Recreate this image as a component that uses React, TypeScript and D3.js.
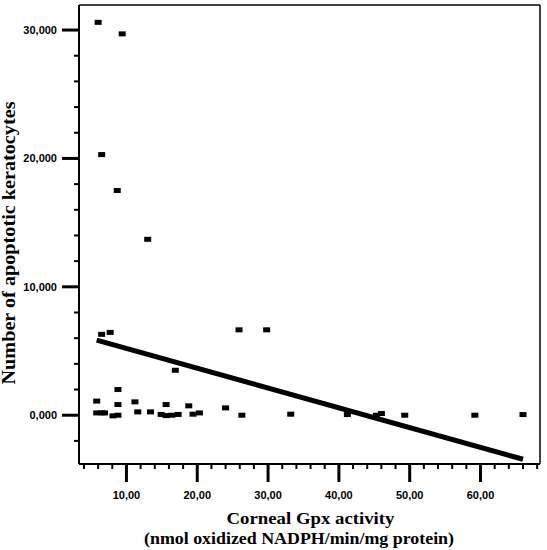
import React from "react";
import * as d3 from "d3";

const gpx = [6.0, 9.4, 6.5, 8.7, 13.0, 6.5, 7.7, 16.9, 8.8, 25.9, 29.8, 24.0, 26.3, 33.2, 41.2, 45.3, 46.0, 49.3, 59.2, 66.0, 5.8, 8.8, 11.2, 15.6, 18.8, 5.8, 6.5, 6.9, 8.1, 8.8, 11.6, 13.4, 14.9, 15.6, 16.4, 17.3, 19.4, 20.3];
const apoptotic = [30600, 29700, 20300, 17500, 13700, 6300, 6450, 3500, 2000, 6650, 6650, 570, 0, 80, 50, 0, 130, 0, 0, 50, 1100, 830, 1040, 830, 730, 180, 180, 180, -50, 0, 260, 260, 60, -30, 0, 60, 80, 180];

const fitX = [5.8, 66.0];
const fitY = [5850, -3430];

const xMajorTicks = [10, 20, 30, 40, 50, 60];
const xTickLabels = ["10,00", "20,00", "30,00", "40,00", "50,00", "60,00"];
const xMinorTicks = d3.range(4, 69, 2);
const yMajorTicks = [0, 10000, 20000, 30000];
const yTickLabels = ["0,000", "10,000", "20,000", "30,000"];
const yMinorTicks = d3.range(-2000, 30001, 2000);

const xTitle1 = "Corneal Gpx activity";
const xTitle2 = "(nmol oxidized NADPH/min/mg protein)";
const yTitle = "Number of apoptotic keratocytes";

export default function App() {
  const W = 547, H = 550;
  const left = 79, right = 540, top = 5, bottom = 464;
  const x = d3.scaleLinear().domain([3.3, 68.4]).range([left, right]);
  const y = d3.scaleLinear().domain([-3800, 31950]).range([bottom, top]);
  const line = d3.line<number>().x((d, i) => x(fitX[i])).y((d, i) => y(fitY[i]));
  const tickFont = "'Liberation Sans', Arial, sans-serif";
  const titleFont = "'Liberation Serif', 'Times New Roman', serif";
  return (
    <svg width={W} height={H} style={{ position: "absolute", left: 0, top: 0, background: "#fff" }}>
      <rect x={0} y={0} width={W} height={H} fill="#fff" />
      {/* frame */}
      <line x1={left} y1={top} x2={right} y2={top} stroke="#000" strokeWidth={1.5} />
      <line x1={right} y1={top} x2={right} y2={bottom} stroke="#000" strokeWidth={1.5} />
      <line x1={left} y1={top} x2={left} y2={bottom} stroke="#000" strokeWidth={2} />
      <line x1={left} y1={bottom} x2={right} y2={bottom} stroke="#000" strokeWidth={2} />
      {/* y ticks */}
      {yMinorTicks.map((t) => (
        <line key={"ym" + t} x1={left - 5} x2={left} y1={y(t)} y2={y(t)} stroke="#000" strokeWidth={2} />
      ))}
      {yMajorTicks.map((t, i) => (
        <g key={"yM" + t}>
          <line x1={left - 17} x2={left} y1={y(t)} y2={y(t)} stroke="#000" strokeWidth={3} />
          <text x={57} y={y(t)} dy="0.36em" textAnchor="end" fontFamily={tickFont} fontWeight="bold" fontSize={11}>
            {yTickLabels[i]}
          </text>
        </g>
      ))}
      {/* x ticks */}
      {xMinorTicks.map((t) => (
        <line key={"xm" + t} x1={x(t)} x2={x(t)} y1={bottom} y2={bottom + 5} stroke="#000" strokeWidth={2} />
      ))}
      {xMajorTicks.map((t, i) => (
        <g key={"xM" + t}>
          <line x1={x(t)} x2={x(t)} y1={bottom} y2={bottom + 18} stroke="#000" strokeWidth={3} />
          <text x={x(t)} y={499} textAnchor="middle" fontFamily={tickFont} fontWeight="bold" fontSize={11}>
            {xTickLabels[i]}
          </text>
        </g>
      ))}
      {/* regression line */}
      <path d={line(fitX) || ""} stroke="#000" strokeWidth={5} fill="none" />
      {/* points */}
      {gpx.map((g, i) => (
        <rect key={"p" + i} x={x(g) - 3.5} y={y(apoptotic[i]) - 2.5} width={7} height={5} fill="#000" />
      ))}
      {/* titles */}
      <text x={310.5} y={524} textAnchor="middle" fontFamily={titleFont} fontWeight="bold" fontSize={17}
        textLength={168} lengthAdjust="spacingAndGlyphs">
        {xTitle1}
      </text>
      <text x={299} y={543.5} textAnchor="middle" fontFamily={titleFont} fontWeight="bold" fontSize={17}
        textLength={310} lengthAdjust="spacingAndGlyphs">
        {xTitle2}
      </text>
      <text transform="translate(15,243) rotate(-90)" textAnchor="middle" fontFamily={titleFont} fontWeight="bold" fontSize={18}
        textLength={283} lengthAdjust="spacingAndGlyphs">
        {yTitle}
      </text>
    </svg>
  );
}
